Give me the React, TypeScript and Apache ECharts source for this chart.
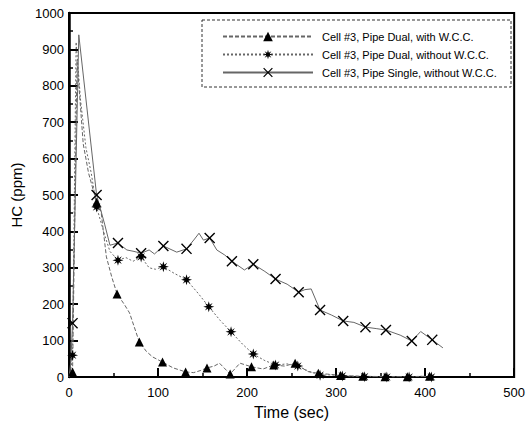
import React, { useEffect, useRef } from "react";
import * as echarts from "echarts";

const legendNames = [
  "Cell #3, Pipe Dual, with W.C.C.",
  "Cell #3, Pipe Dual, without W.C.C.",
  "Cell #3, Pipe Single, without W.C.C.",
];

const xTicks = [0, 100, 200, 300, 400, 500];
const yTicks = [0, 100, 200, 300, 400, 500, 600, 700, 800, 900, 1000];

// Series 1: Pipe Dual, with W.C.C. (triangles)
const triTime = [0, 2, 4, 9, 16, 22, 31, 36, 42, 48, 54, 62, 68, 79, 87, 94, 105, 117, 131, 140, 148, 155, 163, 169, 181, 192, 205, 218, 230, 242, 254, 262, 268, 280, 290, 305, 318, 330, 355, 380, 405];
const triHC = [0, 10, 14, 870, 640, 560, 480, 455, 330, 275, 228, 200, 176, 96, 70, 55, 41, 25, 14, 12, 18, 25, 30, 38, 8, 38, 28, 22, 33, 30, 38, 25, 15, 10, 8, 4, 3, 2, 1, 1, 2];
const triMarkers = [4, 31, 54, 79, 105, 131, 155, 181, 205, 230, 254, 280, 305, 330, 355, 380, 405];

// Series 2: Pipe Dual, without W.C.C. (stars)
const starTime = [0, 2, 4, 8, 13, 19, 25, 31, 40, 46, 55, 64, 72, 81, 90, 97, 106, 118, 132, 145, 157, 170, 182, 195, 207, 220, 232, 245, 257, 270, 282, 295, 307, 320, 332, 345, 357, 370, 382, 395, 407];
const starHC = [0, 20, 60, 920, 760, 630, 560, 467, 390, 345, 321, 328, 318, 330, 300, 296, 303, 285, 267, 230, 193, 155, 124, 90, 63, 45, 33, 36, 30, 15, 5, 6, 3, 2, 1, 1, 0, 1, 0, 2, 0];
const starMarkers = [4, 31, 55, 81, 106, 132, 157, 182, 207, 232, 257, 282, 307, 332, 357, 382, 407];

// Series 3: Pipe Single, without W.C.C. (crosses)
const crossTime = [0, 2, 4, 11, 31, 40, 46, 55, 65, 73, 81, 90, 96, 106, 121, 132, 141, 146, 151, 158, 166, 175, 183, 197, 207, 220, 232, 245, 258, 265, 272, 282, 295, 308, 320, 333, 345, 356, 372, 385, 395, 408, 420];
const crossHC = [0, 40, 148, 940, 500, 420, 362, 368, 349, 345, 340, 349, 338, 360, 343, 352, 379, 395, 376, 382, 349, 335, 318, 294, 310, 290, 269, 255, 233, 240, 242, 184, 170, 154, 150, 137, 133, 129, 115, 99, 125, 102, 80];
const crossMarkers = [4, 31, 55, 81, 106, 132, 158, 183, 207, 232, 258, 282, 308, 333, 356, 385, 408];

const STAR_PATH =
  "path://M5,0 L5.9,3.2 L8.5,1.5 L6.8,4.1 L10,5 L6.8,5.9 L8.5,8.5 L5.9,6.8 L5,10 L4.1,6.8 L1.5,8.5 L3.2,5.9 L0,5 L3.2,4.1 L1.5,1.5 L4.1,3.2 Z";
const CROSS_PATH =
  "path://M0,0.9 L0.9,0 L5,4.1 L9.1,0 L10,0.9 L5.9,5 L10,9.1 L9.1,10 L5,5.9 L0.9,10 L0,9.1 L4.1,5 Z";

const FONT = "Liberation Sans, Arial, sans-serif";

function makeSeries(
  name: string,
  times: number[],
  vals: number[],
  markers: number[],
  symbol: string,
  size: number,
  dash: any
) {
  const set = new Set(markers);
  return {
    name,
    type: "line",
    data: times.map((t, i) => [t, vals[i]]),
    symbol,
    symbolSize: (v: number[]) => (set.has(v[0]) ? size : 0),
    showSymbol: true,
    showAllSymbol: true,
    itemStyle: { color: "#000" },
    lineStyle: { color: "#666", width: 1, type: dash },
    emphasis: { disabled: true },
    z: 2,
  };
}

export default function App() {
  const ref = useRef<HTMLDivElement>(null);
  useEffect(() => {
    if (!ref.current) return;
    const chart = echarts.init(ref.current, undefined, { renderer: "svg" });
    chart.setOption({
      animation: false,
      backgroundColor: "#fff",
      grid: {
        left: 69,
        right: 13,
        top: 13,
        bottom: 48,
        show: true,
        borderColor: "#000",
        borderWidth: 2,
        backgroundColor: "transparent",
      },
      legend: {
        data: legendNames,
        orient: "vertical",
        left: 217,
        top: 26,
        itemWidth: 90,
        itemHeight: 12,
        itemGap: 7,
        selectedMode: false,
        textStyle: {
          color: "#000",
          fontSize: 11,
          fontFamily: FONT,
          padding: [0, 0, 0, 4],
        },
      },
      graphic: [
        {
          type: "rect",
          shape: { x: 202, y: 20, width: 309, height: 67 },
          style: { fill: "none", stroke: "#333", lineWidth: 1, lineDash: [3, 2] },
          z: 10,
        },
      ],
      xAxis: {
        type: "value",
        min: xTicks[0],
        max: xTicks[xTicks.length - 1],
        interval: 100,
        name: "Time (sec)",
        nameLocation: "middle",
        nameGap: 27,
        nameTextStyle: { fontSize: 16, color: "#000", fontFamily: FONT },
        axisLine: { show: true, lineStyle: { color: "#000", width: 2 } },
        axisTick: { show: true, inside: true, length: 9, lineStyle: { color: "#000", width: 2 } },
        minorTick: { show: true, splitNumber: 2, length: 4, lineStyle: { color: "#000", width: 1.5 } },
        axisLabel: { color: "#000", fontSize: 13, fontFamily: FONT, margin: 9, formatter: (v: number) => String(v) },
        splitLine: { show: false },
      },
      yAxis: {
        type: "value",
        min: yTicks[0],
        max: yTicks[yTicks.length - 1],
        interval: 100,
        name: "HC (ppm)",
        nameLocation: "middle",
        nameGap: 41,
        nameTextStyle: { fontSize: 15, color: "#000", fontFamily: FONT },
        axisLine: { show: true, lineStyle: { color: "#000", width: 2.5 } },
        axisTick: { show: true, inside: true, length: 9, lineStyle: { color: "#000", width: 2 } },
        minorTick: { show: true, splitNumber: 2, length: 4, lineStyle: { color: "#000", width: 1.5 } },
        axisLabel: { color: "#000", fontSize: 13, fontFamily: FONT, margin: 5, formatter: (v: number) => String(v) },
        splitLine: { show: false },
      },
      series: [
        makeSeries(legendNames[0], triTime, triHC, triMarkers, "triangle", 9, [4, 2]),
        makeSeries(legendNames[1], starTime, starHC, starMarkers, STAR_PATH, 11, [2, 2]),
        makeSeries(legendNames[2], crossTime, crossHC, crossMarkers, CROSS_PATH, 11, "solid"),
      ],
    });
    return () => chart.dispose();
  }, []);
  return (
    <div
      ref={ref}
      style={{ position: "fixed", left: 0, top: 0, width: 528, height: 425, background: "#fff" }}
    />
  );
}
